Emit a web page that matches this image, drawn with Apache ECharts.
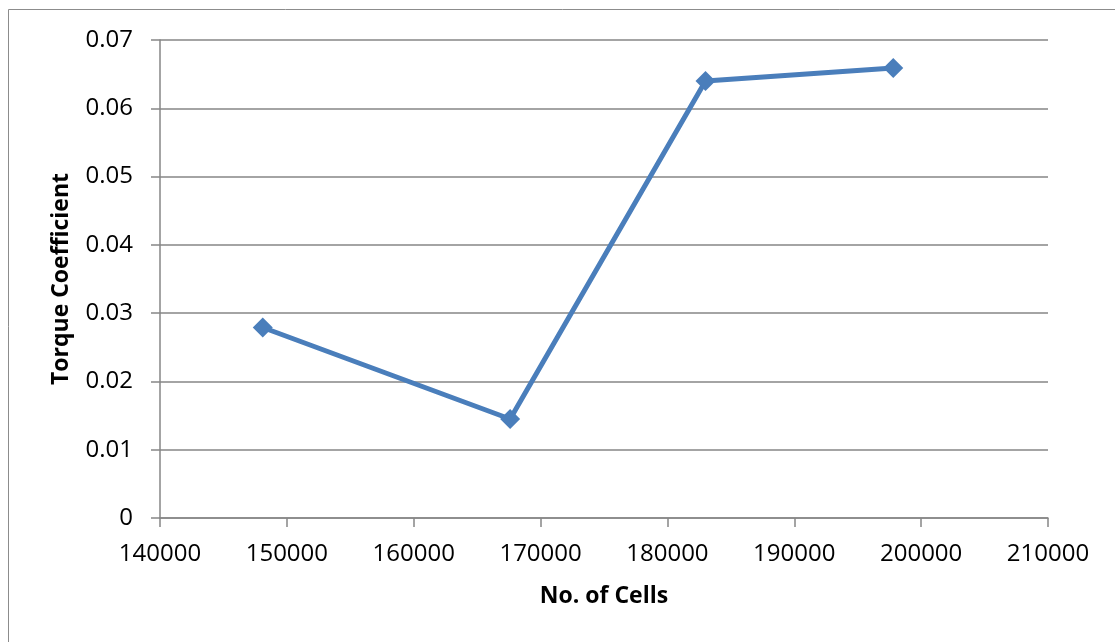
<!DOCTYPE html>
<html><head><meta charset="utf-8">
<script src="https://cdn.jsdelivr.net/npm/echarts@6/dist/echarts.min.js"></script>
<style>html,body{margin:0;padding:0;background:#fff}#c{width:1115px;height:642px}</style>
</head><body><div id="c"></div>
<script>
const cells = [148100, 167600, 183000, 197800];
const torque = [0.0279, 0.0145, 0.0640, 0.0659];
const xTitle = 'No. of Cells';
const yTitle = 'Torque Coefficient';

const chart = echarts.init(document.getElementById('c'), null, {renderer:'canvas'});
const font = '"Open Sans", "Noto Sans", sans-serif';
chart.setOption({
  animation:false,
  backgroundColor:'#fff',
  graphic:[{type:'rect', shape:{x:8.5,y:9.5,width:1200,height:700}, style:{fill:null, stroke:'#8c8c8c', lineWidth:1}, silent:true}],
  grid:{left:160, right:67, top:40, bottom:124},
  xAxis:{
    type:'value', min:140000, max:210000, interval:10000,
    name:xTitle, nameLocation:'middle', nameGap:67,
    nameTextStyle:{fontFamily:font, fontSize:23, fontWeight:'bold', color:'#000'},
    axisLine:{lineStyle:{color:'#868686', width:1.5}},
    axisTick:{show:true, length:9, lineStyle:{color:'#868686', width:1.5}},
    axisLabel:{fontFamily:font, fontSize:24, color:'#000', margin:24, formatter:v=>String(v)},
    splitLine:{show:false}
  },
  yAxis:{
    type:'value', min:0, max:0.07, interval:0.01,
    name:yTitle, nameLocation:'middle', nameGap:87,
    nameTextStyle:{fontFamily:font, fontSize:23, fontWeight:'bold', color:'#000'},
    axisLine:{show:true, lineStyle:{color:'#868686', width:1.5}},
    axisTick:{show:true, length:9, lineStyle:{color:'#868686', width:1.5}},
    axisLabel:{fontFamily:font, fontSize:24, color:'#000', margin:27},
    splitLine:{show:true, lineStyle:{color:'#868686', width:1.5}}
  },
  series:[{
    type:'line',
    data: cells.map((c,i)=>[c, torque[i]]),
    symbol:'diamond', symbolSize:20,
    lineStyle:{color:'#4A7EBB', width:5},
    itemStyle:{color:'#4A7EBB'}
  }]
});
</script></body></html>
